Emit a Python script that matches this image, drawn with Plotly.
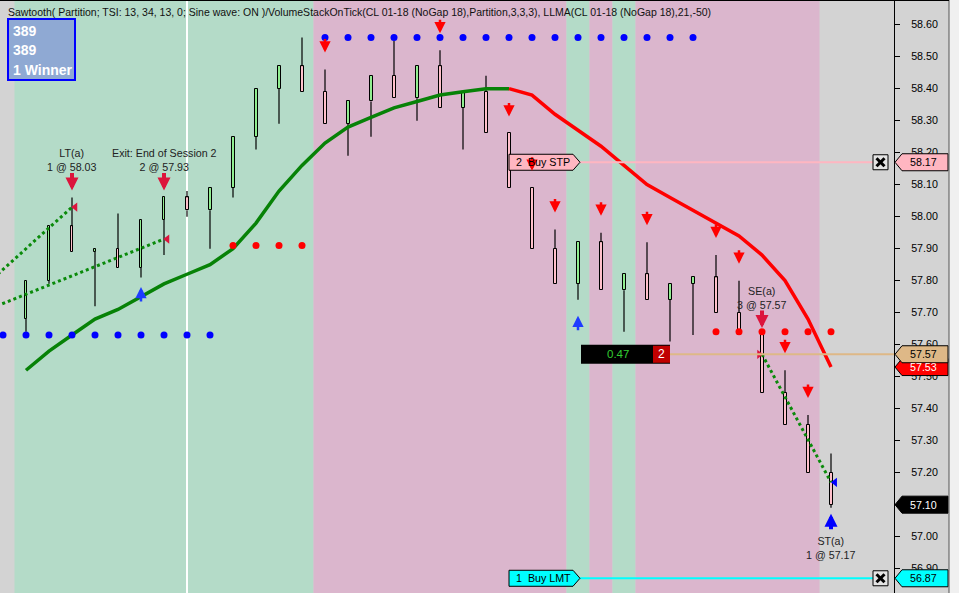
import plotly.graph_objects as go

# ── Bars (CL 01-18, NoGap 18 sawtooth bars) ─────────────────────────
bar_idx = list(range(1, 37))
opens = [57.68, 57.80, 57.97, 57.89, 57.90, 57.84, 57.99, 58.06, 58.02, 58.09,
         58.25, 58.40, 58.47, 58.39, 58.29, 58.36, 58.44, 58.37, 58.47, 58.34,
         58.39, 58.26, 58.09, 57.90, 57.79, 57.92, 57.77, 57.82, 57.74, 57.79,
         57.81, 57.70, 57.63, 57.45, 57.35, 57.20]
highs = [57.80, 57.97, 58.06, 57.90, 58.01, 57.99, 58.06, 58.08, 58.09, 58.25,
         58.40, 58.47, 58.56, 58.46, 58.36, 58.44, 58.55, 58.47, 58.52, 58.39,
         58.44, 58.26, 58.09, 57.96, 57.92, 57.95, 57.82, 57.92, 57.79, 57.81,
         57.88, 57.80, 57.63, 57.52, 57.38, 57.26]
lows = [57.64, 57.79, 57.89, 57.72, 57.84, 57.81, 57.88, 58.00, 57.90, 58.06,
        58.21, 58.29, 58.39, 58.29, 58.19, 58.25, 58.37, 58.30, 58.34, 58.21,
        58.26, 58.09, 57.90, 57.79, 57.74, 57.77, 57.64, 57.74, 57.61, 57.63,
        57.70, 57.63, 57.45, 57.35, 57.20, 57.09]
closes = [57.80, 57.97, 57.89, 57.90, 57.84, 57.99, 58.06, 58.02, 58.09, 58.25,
          58.40, 58.47, 58.39, 58.29, 58.36, 58.44, 58.37, 58.47, 58.34, 58.39,
          58.26, 58.09, 57.90, 57.79, 57.92, 57.77, 57.82, 57.74, 57.79, 57.81,
          57.70, 57.63, 57.45, 57.35, 57.20, 57.10]

# LLMA(21,-50); green while rising, red after the turn
llma = [57.52, 57.58, 57.63, 57.68, 57.71, 57.75, 57.79, 57.82, 57.85, 57.90,
        57.98, 58.08, 58.16, 58.23, 58.28, 58.31, 58.34, 58.36, 58.38, 58.39,
        58.40, 58.40, 58.38, 58.32, 58.27, 58.22, 58.16, 58.10, 58.06, 58.02,
        57.98, 57.94, 57.88, 57.80, 57.68, 57.53]
llma_turn_bar = 22

# Sawtooth partition regions
region_start = [0.5, 13.5, 24.5, 25.5, 26.5, 27.5]
region_end = [13.5, 24.5, 25.5, 26.5, 27.5, 35.5]
region_state = ["long", "short", "long", "short", "long", "short"]
session_break_bar = 8

# Sawtooth stop dots
blue_stop_bars = list(range(0, 10)) + list(range(14, 31))
blue_stop_prices = [57.63] * 10 + [58.56] * 17
red_stop_bars = [10, 11, 12, 13, 31, 32, 33, 34, 35, 36]
red_stop_prices = [57.91] * 4 + [57.64] * 6

# Signal arrows
sell_signal_bars = [14, 19, 22, 23, 24, 26, 28, 31, 32, 34, 35]
buy_signal_bars = [6, 25]
buy_signal_prices = [57.78, 57.69]

# Trades
trade_bars = [3, 7, 33, 36]
trade_up = [False, False, False, True]
trade_text = ["LT(a)<br>1 @ 58.03", "Exit: End of Session 2<br>2 @ 57.93",
              "SE(a)<br>3 @ 57.57", "ST(a)<br>1 @ 57.17"]
trade_lines = [([-1, 3], [57.77, 58.03]),
               ([-1, 7], [57.70, 57.93]),
               ([33, 36], [57.57, 57.17])]

# Working orders / position
stop_order_price, stop_order_text = 58.17, "2  Buy STP"
limit_order_price, limit_order_text = 56.87, "1  Buy LMT"
order_bar = 22
position_price, position_bar, position_pnl, position_qty = 57.57, 29, "0.47", "2"
last_price = 57.10

y_ticks = [round(56.90 + 0.1 * i, 2) for i in range(18)]

# ── Layout constants ────────────────────────────────────────────────
X_RANGE = [-0.1304, 38.739]
Y_RANGE = [56.824, 58.677]
PLOT_W, PLOT_H = 894, 593
PX = PLOT_H / (Y_RANGE[1] - Y_RANGE[0])   # pixels per 1.00 of price
FONT = "Liberation Sans, Arial, sans-serif"
_LONG = "#B4DBC8"
_SHORT = "#DBB6CD"
_GREY = "#D3D3D3"


def px_x(p):
    return p / PLOT_W


def px_y(p):
    return 1 - p / PLOT_H


fig = go.Figure()

# background partitions
for s, e, st in zip(region_start, region_end, region_state):
    fig.add_shape(type="rect", xref="x", yref="paper", x0=s, x1=e, y0=0, y1=1,
                  fillcolor=_LONG if st == "long" else _SHORT,
                  line_width=0, layer="below")
fig.add_shape(type="line", xref="x", yref="paper", x0=session_break_bar,
              x1=session_break_bar, y0=0, y1=1,
              line=dict(color="white", width=2), layer="below")

# ── candles ─────────────────────────────────────────────────────────
wick_x, wick_y = [], []
for b, o, h, l, c in zip(bar_idx, opens, highs, lows, closes):
    top, bot = max(o, c), min(o, c)
    if h > top:
        wick_x += [b, b, None]
        wick_y += [top, h, None]
    if l < bot:
        wick_x += [b, b, None]
        wick_y += [l, bot, None]
fig.add_trace(go.Scatter(x=wick_x, y=wick_y, mode="lines",
                         line=dict(color="black", width=1.2), hoverinfo="skip"))
fig.add_trace(go.Bar(
    x=bar_idx, y=[c - o for o, c in zip(opens, closes)], base=opens,
    width=0.13,
    marker=dict(color=["#90EE90" if c > o else "#FFC0CB"
                       for o, c in zip(opens, closes)],
                line=dict(color="black", width=1)),
))

# ── LLMA ────────────────────────────────────────────────────────────
k = bar_idx.index(llma_turn_bar)
fig.add_trace(go.Scatter(x=bar_idx[:k + 1], y=llma[:k + 1], mode="lines",
                         line=dict(color="#078207", width=3.5)))
fig.add_trace(go.Scatter(x=bar_idx[k:], y=llma[k:], mode="lines",
                         line=dict(color="#FF0000", width=3.5)))

# ── stop dots ───────────────────────────────────────────────────────
fig.add_trace(go.Scatter(x=blue_stop_bars, y=blue_stop_prices, mode="markers",
                         marker=dict(color="#0000FF", size=7)))
fig.add_trace(go.Scatter(x=red_stop_bars, y=red_stop_prices, mode="markers",
                         marker=dict(color="#FF0000", size=7)))

# ── trade lines ─────────────────────────────────────────────────────
for xs, ys in trade_lines:
    fig.add_trace(go.Scatter(x=xs, y=ys, mode="lines",
                             line=dict(color="#0A8A0A", width=3, dash="dot")))
fig.add_trace(go.Scatter(
    x=[trade_lines[0][0][1] + 0.14, trade_lines[1][0][1] + 0.14, trade_lines[2][0][0] - 0.12],
    y=[trade_lines[0][1][1], trade_lines[1][1][1], trade_lines[2][1][0]],
    mode="markers", marker=dict(symbol=["triangle-left", "triangle-left", "triangle-right"],
                                color="#DC143C", size=8)))
fig.add_trace(go.Scatter(x=[trade_lines[2][0][1] + 0.17], y=[trade_lines[2][1][1]],
                         mode="markers",
                         marker=dict(symbol="triangle-left", color="#0000FF", size=8)))


def arrow(x, y, color, up, length, width, size):
    fig.add_annotation(x=x, y=y, ax=0, ay=length if up else -length, text="",
                       font=dict(size=1), borderpad=0,
                       showarrow=True, arrowhead=2, arrowsize=size,
                       arrowwidth=width, arrowcolor=color)


# signal arrows
for b in sell_signal_bars:
    h = highs[bar_idx.index(b)]
    arrow(b, h + 17 / PX, "#FF0000", False, 14, 2.5, 0.9)
for b, p in zip(buy_signal_bars, buy_signal_prices):
    arrow(b, p, "#1E3CFF", True, 15, 2.5, 0.9)

# trade arrows + labels
for b, up, txt in zip(trade_bars, trade_up, trade_text):
    i = bar_idx.index(b)
    if up:
        tip = lows[i] - 6 / PX
        arrow(b, tip, "#0000FF", True, 16, 4, 0.65)
        fig.add_annotation(x=b, y=tip, yshift=-19, yanchor="top", text=txt,
                           showarrow=False, font=dict(family=FONT, size=10.7, color="#222"))
    else:
        tip = highs[i] + 7 / PX
        arrow(b, tip, "#DC143C", False, 18, 4, 0.65)
        fig.add_annotation(x=b, y=tip, yshift=15, yanchor="bottom", text=txt,
                           showarrow=False, font=dict(family=FONT, size=10.7, color="#222"))

# ── orders ──────────────────────────────────────────────────────────
for price, txt, fill, lc in [(stop_order_price, stop_order_text, "#FFB6C1", "#FFB6C1"),
                             (limit_order_price, limit_order_text, "#00FFFF", "#00FFFF")]:
    fig.add_shape(type="line", xref="x", xsizemode="pixel", xanchor=order_bar,
                  x0=71, x1=365, yref="y", y0=price, y1=price,
                  line=dict(color=lc, width=2), layer="above")
    fig.add_shape(type="path", xref="x", xsizemode="pixel", xanchor=order_bar,
                  yref="y", ysizemode="pixel", yanchor=price,
                  path="M 0 8 L 64 8 L 71 0 L 64 -8 L 0 -8 Z",
                  fillcolor=fill, line=dict(color="black", width=1), layer="above")
    fig.add_annotation(x=order_bar, xshift=34, y=price, text=txt, showarrow=False,
                       xanchor="center",
                       font=dict(family=FONT, size=10.7, color="black"))
    # cancel box
    fig.add_shape(type="rect", xref="paper", xsizemode="pixel", xanchor=1,
                  x0=-21, x1=-6, yref="y", ysizemode="pixel", yanchor=price,
                  y0=-7.5, y1=7.5, fillcolor="#E4E4E4",
                  line=dict(color="black", width=1), layer="above")
    for d in (1, -1):
        fig.add_shape(type="line", xref="paper", xsizemode="pixel", xanchor=1,
                      x0=-17.5, x1=-9.5, yref="y", ysizemode="pixel", yanchor=price,
                      y0=-4 * d, y1=4 * d, line=dict(color="black", width=3),
                      layer="above")

# position line + P/L box
fig.add_shape(type="line", xref="x", x0=position_bar, x1=X_RANGE[1], yref="y",
              y0=position_price, y1=position_price,
              line=dict(color="#DEB887", width=2), layer="above")
fig.add_shape(type="rect", xref="x", xsizemode="pixel", xanchor=position_bar,
              x0=-89, x1=0, yref="y", ysizemode="pixel", yanchor=position_price,
              y0=-9.5, y1=9.5, fillcolor="black", line_width=0, layer="above")
fig.add_shape(type="rect", xref="x", xsizemode="pixel", xanchor=position_bar,
              x0=-17, x1=0, yref="y", ysizemode="pixel", yanchor=position_price,
              y0=-8.5, y1=8.5, fillcolor="#C00000", line_width=0, layer="above")
fig.add_annotation(x=position_bar, xshift=-52, y=position_price, text=position_pnl,
                   xanchor="center", showarrow=False,
                   font=dict(family=FONT, size=11.5, color="#32CD32"))
fig.add_annotation(x=position_bar, xshift=-8.5, y=position_price, text=position_qty,
                   xanchor="center", showarrow=False,
                   font=dict(family=FONT, size=12, color="white"))

# ── right axis price tags ───────────────────────────────────────────
tags = [(stop_order_price, "#FFB6C1", "black"),
        (last_price, "black", "white"),
        (limit_order_price, "#00FFFF", "black"),
        (llma[-1], "#FF0000", "white"),
        (position_price, "#DEB887", "black")]
for price, fill, fc in tags:
    fig.add_shape(type="path", xref="paper", xsizemode="pixel", xanchor=1,
                  yref="y", ysizemode="pixel", yanchor=price,
                  path="M 1 0 L 8 8.5 L 54 8.5 L 54 -8.5 L 8 -8.5 Z",
                  fillcolor=fill, line=dict(color="black", width=1), layer="above")
    fig.add_annotation(xref="paper", x=1, xshift=29, y=price, text=f"{price:.2f}",
                       xanchor="center", showarrow=False,
                       font=dict(family=FONT, size=10.7, color=fc))

# frame
fig.add_shape(type="rect", xref="paper", yref="paper", x0=px_x(949), x1=px_x(960),
              y0=-0.01, y1=1.01, fillcolor="#F0F0F0", line_width=0, layer="above")
fig.add_shape(type="line", xref="paper", yref="paper", x0=px_x(949), x1=px_x(949),
              y0=0, y1=1, line=dict(color="#555", width=1), layer="above")
fig.add_shape(type="line", xref="paper", yref="paper", x0=0, x1=px_x(949),
              y0=px_y(0.5), y1=px_y(0.5), line=dict(color="black", width=1),
              layer="above")

# title + stats box
fig.add_annotation(xref="paper", yref="paper", x=px_x(6), y=px_y(12), xanchor="left",
                   yanchor="middle", showarrow=False,
                   text="Sawtooth( Partition; TSI: 13, 34, 13, 0; Sine wave: ON )/"
                        "VolumeStackOnTick(CL 01-18 (NoGap 18),Partition,3,3,3), "
                        "LLMA(CL 01-18 (NoGap 18),21,-50)",
                   font=dict(family=FONT, size=10.5, color="#111"))
fig.add_shape(type="rect", xref="paper", yref="paper", x0=px_x(8), x1=px_x(75),
              y0=px_y(80), y1=px_y(19), fillcolor="#8FA9D3",
              line=dict(color="#0000FF", width=2), layer="above")
for i, t in enumerate(["389", "389", "1 Winner"]):
    fig.add_annotation(xref="paper", yref="paper", x=px_x(11), y=px_y(31 + 19.5 * i),
                       xanchor="left", yanchor="middle", text=f"<b>{t}</b>",
                       showarrow=False, font=dict(family=FONT, size=14, color="white"))

fig.update_layout(
    width=959, height=593,
    margin=dict(l=0, r=959 - PLOT_W, t=0, b=0),
    plot_bgcolor=_GREY, paper_bgcolor=_GREY,
    showlegend=False, bargap=0,
    xaxis=dict(range=X_RANGE, visible=False, fixedrange=True),
    yaxis=dict(range=Y_RANGE, side="right", tickvals=y_ticks,
               ticktext=[f"{v:.2f}" for v in y_ticks],
               ticks="outside", ticklen=5, tickcolor="black",
               showline=True, linecolor="black", linewidth=1, mirror=False,
               showgrid=False, zeroline=False, ticklabelstandoff=9,
               tickfont=dict(family=FONT, size=10.7, color="black")),
)

# page body margin would shift the figure by 8px
fig.write_html("out.html", config={"displayModeBar": False},
               post_script="document.body.style.margin='0';")
